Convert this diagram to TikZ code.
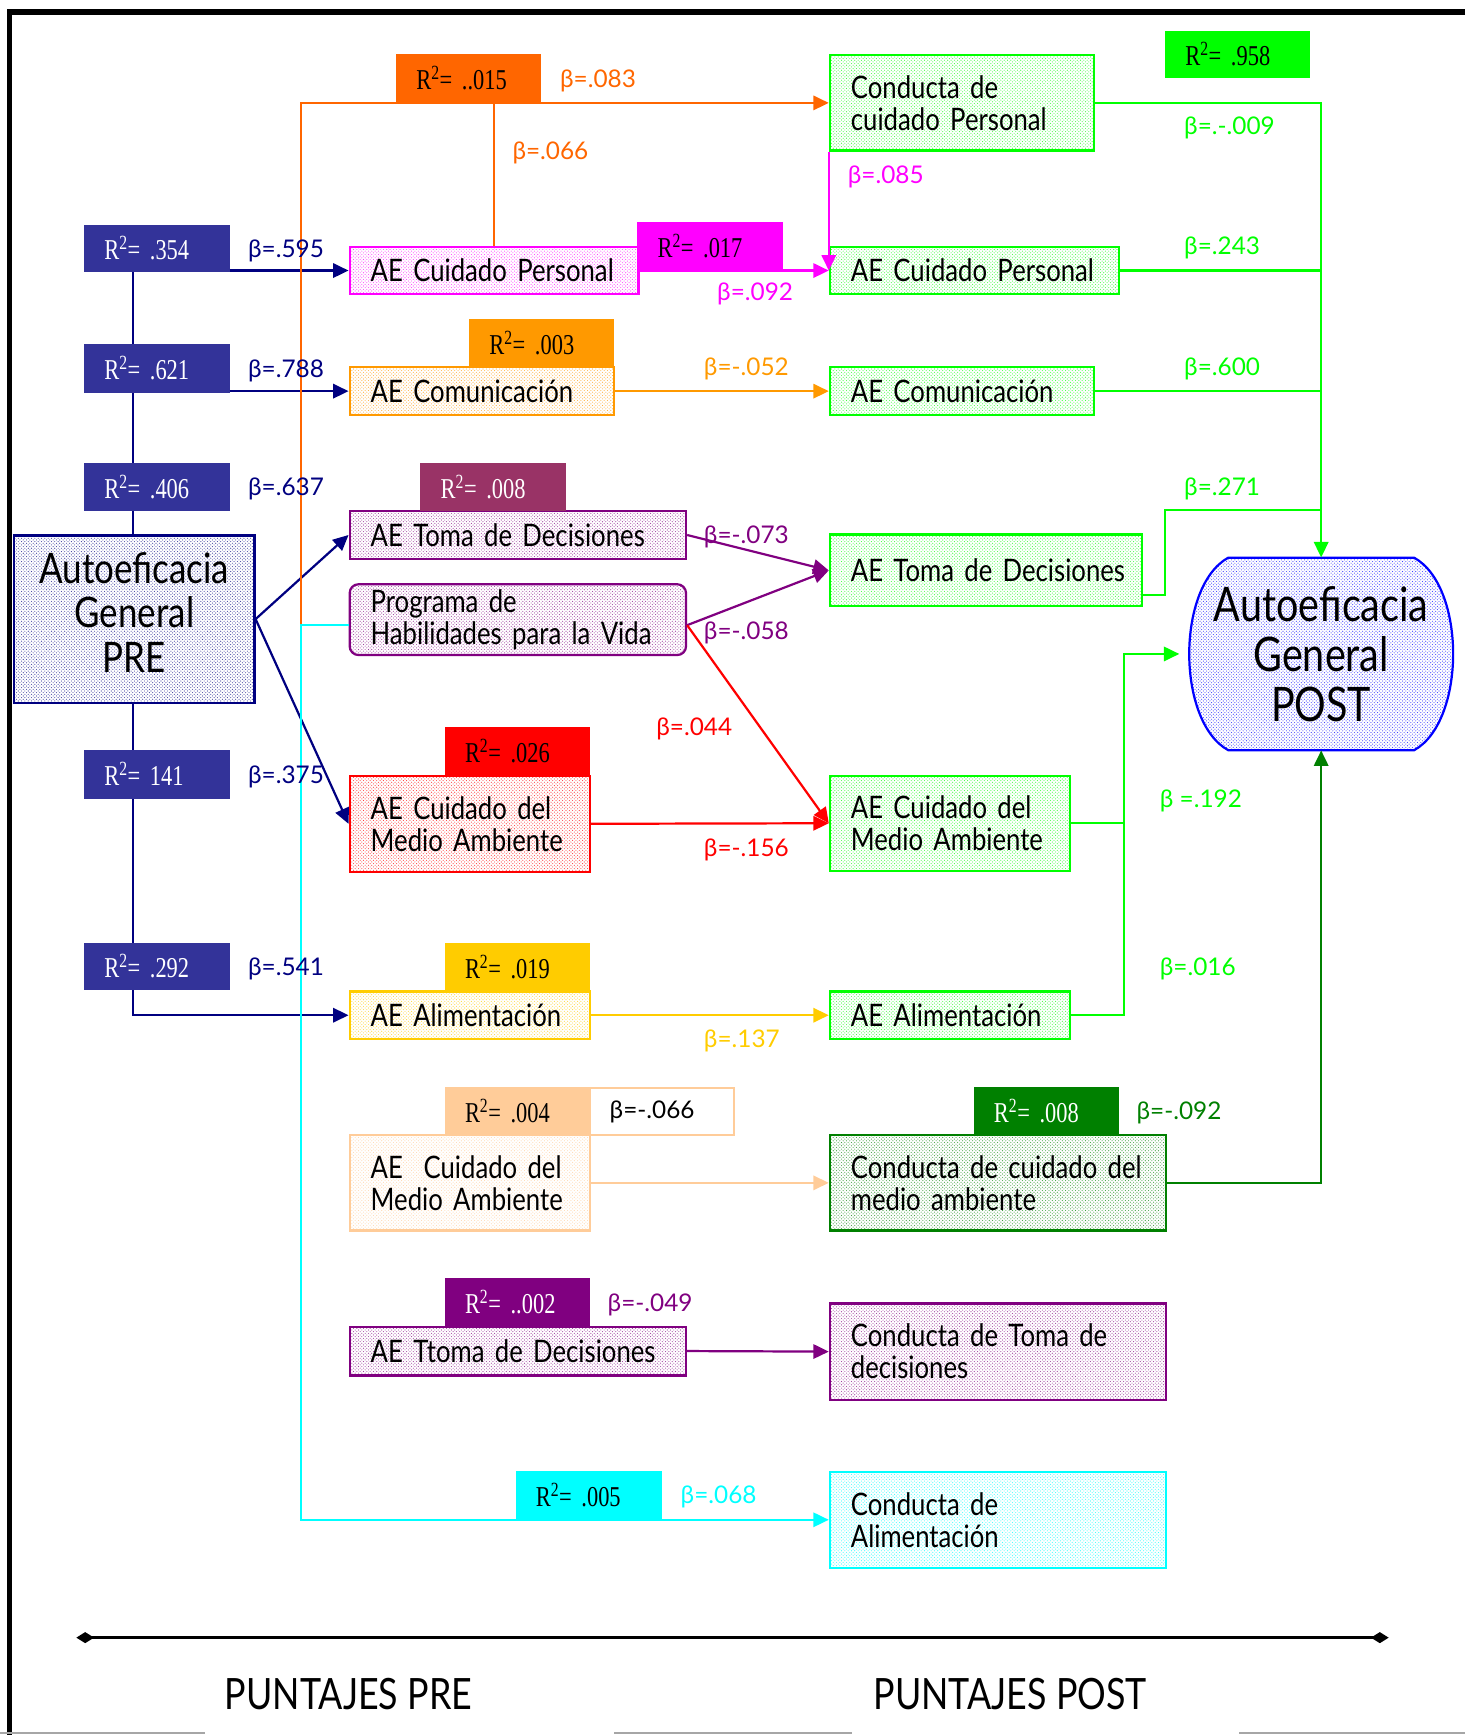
\documentclass[tikz,border=0pt]{standalone}
\usepackage{fontspec}
\setmainfont{Lato}[FakeStretch=0.83]
\newfontfamily\betafont{Lato}
\newfontfamily\rfont{Liberation Serif}[FakeStretch=0.78]
\usetikzlibrary{arrows.meta,patterns}
\pgfdeclarelayer{background}
\pgfsetlayers{background,main}
\definecolor{cnavyfill}{HTML}{333399}
\definecolor{cnavy}{HTML}{000080}
\definecolor{corangeA}{HTML}{FF6600}
\definecolor{cmag}{HTML}{FF00FF}
\definecolor{corangeB}{HTML}{FF9900}
\definecolor{cmaroon}{HTML}{993366}
\definecolor{cpurple}{HTML}{800080}
\definecolor{cred}{HTML}{FF0000}
\definecolor{cgold}{HTML}{FFCC00}
\definecolor{cpeach}{HTML}{FFCC99}
\definecolor{cgreen}{HTML}{00FF00}
\definecolor{cdkgreen}{HTML}{008000}
\definecolor{ccyan}{HTML}{00FFFF}
\definecolor{cblue}{HTML}{0000FF}
\tikzset{
  bx/.style={draw=#1, line width=2pt, preaction={fill=white}, pattern=crosshatch dots, pattern color=#1!75,
    inner xsep=19pt, inner ysep=0pt, align=left, anchor=north west,
    font=\fontsize{28}{29}\selectfont, text=black},
  rb/.style={fill=#1, draw=#1, line width=0.5pt, inner xsep=18pt, inner ysep=0pt, anchor=north west,
    align=left, font=\rfont\fontsize{26}{28}\selectfont},
  bt/.style={anchor=west, inner sep=0pt, font=\betafont\fontsize{22}{24}\selectfont},
  cn/.style={line width=2pt, -{Triangle[length=14pt,width=13pt]}},
  ln/.style={line width=2pt},
}
\begin{document}
\begin{tikzpicture}[x=1pt,y=-1pt]
\useasboundingbox (0,0) rectangle (1324,1568);
% frame
\draw[line width=5pt] (1324,11) -- (8.5,11) -- (8.5,1568);
\draw[line width=2pt, gray!70] (0,1566) -- (185,1566);
\draw[line width=2pt, gray!70] (555,1566) -- (770,1566);
\draw[line width=2pt, gray!70] (1120,1566) -- (1324,1566);

% PRE main box
\node[draw=cnavy, line width=2pt, preaction={fill=white}, pattern=crosshatch dots, pattern color=cnavy!75,
  minimum width=217pt, minimum height=151pt, anchor=north west, inner sep=0pt, align=center,
  font=\fontsize{38}{40}\selectfont] (pre) at (12,483) {Autoeficacia\\General\\PRE\\[-28pt]\mbox{}};

% R2 navy boxes
\node[rb=cnavyfill, text=white, minimum height=42pt, text width=95pt] (r354) at (76,203) {R\textsuperscript{2}= .354};
\node[rb=cnavyfill, text=white, minimum height=43pt, text width=95pt] (r621) at (76,311) {R\textsuperscript{2}= .621};
\node[rb=cnavyfill, text=white, minimum height=43pt, text width=95pt] (r406) at (76,418) {R\textsuperscript{2}= .406};
\node[rb=cnavyfill, text=white, minimum height=43pt, text width=95pt] (r141) at (76,678) {R\textsuperscript{2}= 141};
\node[rb=cnavyfill, text=white, minimum height=42pt, text width=95pt] (r292) at (76,852) {R\textsuperscript{2}= .292};

% pre column boxes
\node[bx=cmag, text width=223pt, minimum height=43pt] (preCP) at (315,222) {\mbox{AE Cuidado Personal}};
\node[bx=corangeB, text width=201pt, minimum height=43pt] (preCom) at (315,331) {\mbox{AE Comunicación}};
\node[bx=cpurple, text width=266pt, minimum height=43pt] (preTD) at (315,461) {\mbox{AE Toma de Decisiones}};
\node[bx=cpurple, text width=266pt, minimum height=64pt, rounded corners=8pt] (prog) at (315,527) {\mbox{Programa de}\\\mbox{Habilidades para la Vida}};
\node[bx=cred, text width=179pt, minimum height=87pt] (preMA) at (315,700) {\mbox{AE Cuidado del}\\\mbox{Medio Ambiente}};
\node[bx=cgold, text width=179pt, minimum height=43pt] (preAl) at (315,895) {\mbox{AE Alimentación}};
\node[bx=cpeach, text width=179pt, minimum height=86pt] (preMA2) at (315,1025) {\mbox{AE\ \ Cuidado del}\\\mbox{Medio Ambiente}};
\node[bx=cpurple, text width=266pt, minimum height=44pt] (preTD2) at (315,1198) {\mbox{AE Ttoma de Decisiones}};

% post column boxes
\node[bx=cgreen, text width=201pt, minimum height=86pt] (cPers) at (749,49) {\mbox{Conducta de}\\\mbox{cuidado Personal}};
\node[bx=cgreen, text width=223pt, minimum height=43pt] (pCP) at (749,222) {\mbox{AE Cuidado Personal}};
\node[bx=cgreen, text width=201pt, minimum height=43pt] (pCom) at (749,331) {\mbox{AE Comunicación}};
\node[bx=cgreen, text width=244pt, minimum height=65pt] (pTD) at (749,482) {\mbox{AE Toma de Decisiones}};
\node[bx=cgreen, text width=179pt, minimum height=86pt] (pMA) at (749,700) {\mbox{AE Cuidado del}\\\mbox{Medio Ambiente}};
\node[bx=cgreen, text width=179pt, minimum height=43pt] (pAl) at (749,895) {\mbox{AE Alimentación}};
\node[bx=cdkgreen, text width=266pt, minimum height=86pt] (cMA) at (749,1025) {\mbox{Conducta de cuidado del}\\\mbox{medio ambiente}};
\node[bx=cpurple, text width=266pt, minimum height=87pt] (cTD) at (749,1177) {\mbox{Conducta de Toma de}\\\mbox{decisiones}};
\node[bx=ccyan, text width=266pt, minimum height=87pt] (cAl) at (749,1329) {\mbox{Conducta de}\\\mbox{Alimentación}};

% POST shape
\path[draw=cblue, line width=2pt, preaction={fill=white}, pattern=crosshatch dots, pattern color=cblue!75]
  (1110,504) -- (1278,504) .. controls (1325,530) and (1325,652) .. (1278,678)
  -- (1110,678) .. controls (1063,652) and (1063,530) .. (1110,504) -- cycle;
\node[minimum width=238pt, minimum height=174pt, inner sep=0pt, align=center,
  font=\fontsize{43}{45}\selectfont] (post) at (1194,591) {Autoeficacia\\General\\POST};

% R2 colored boxes
\node[rb=corangeA, text=black, minimum height=43pt, text width=94pt] (rA) at (358,49) {R\textsuperscript{2}= ..015};
\node[rb=cmag, text=black, minimum height=42pt, text width=95pt] (rB) at (576,201) {R\textsuperscript{2}= .017};
\node[rb=corangeB, text=black, minimum height=43pt, text width=94pt] (rC) at (424,288) {R\textsuperscript{2}= .003};
\node[rb=cmaroon, text=white, minimum height=43pt, text width=95pt] (rD) at (380,418) {R\textsuperscript{2}= .008};
\node[rb=cred, text=black, minimum height=43pt, text width=94pt] (rE) at (402,657) {R\textsuperscript{2}= .026};
\node[rb=cgold, text=black, minimum height=43pt, text width=94pt] (rF) at (402,852) {R\textsuperscript{2}= .019};
\node[rb=cpeach, text=black, minimum height=43pt, text width=94pt] (rG) at (402,982) {R\textsuperscript{2}= .004};
\node[draw=cpeach, line width=2pt, fill=white, inner xsep=18pt, inner ysep=0pt, anchor=north west, align=left,
  minimum height=43pt, text width=94pt, font=\betafont\fontsize{22}{24}\selectfont] (bG) at (532,982) {β=-.066};
\node[rb=cdkgreen, text=white, minimum height=43pt, text width=94pt] (rH) at (880,982) {R\textsuperscript{2}= .008};
\node[rb=cpurple, text=white, minimum height=43pt, text width=94pt] (rI) at (402,1155) {R\textsuperscript{2}= ..002};
\node[rb=ccyan, text=black, minimum height=43pt, text width=95pt] (rJ) at (466,1329) {R\textsuperscript{2}= .005};
\node[rb=cgreen, text=black, minimum height=42pt, text width=94pt] (rK) at (1053,28) {R\textsuperscript{2}= .958};

% coordinates
\coordinate (vl) at (120,0);
\coordinate (oc) at (272,565);
\coordinate (gj) at (1053,461);
\coordinate (gk) at (1016,743);

% navy connectors
\begin{pgfonlayer}{background}
\draw[cn, cnavy] (vl |- r354.south) -- (vl |- preAl.west) -- (preAl.west);
\end{pgfonlayer}
\draw[cn, cnavy] (r354.east |- preCP.west) -- (preCP.west);
\draw[cn, cnavy] (r621.east |- preCom.west) -- (preCom.west);
\draw[cn, cnavy] (pre.east) -- (preTD.west);
\draw[cn, cnavy] (pre.east) -- (preMA.west);

% orange / cyan from programme
\draw[cn, corangeA] (oc) |- (cPers.west);
\draw[ln, corangeA] (preCP.north) -- (preCP.north |- cPers.west);
\draw[cn, ccyan] (prog.west |- oc) -- (oc) |- (cAl.west);

% pre -> post
\draw[cn, cmag] (preCP.east) -- (pCP.west);
\draw[cn, cmag] (cPers.south west) -- (pCP.west);
\draw[cn, corangeB] (preCom.east) -- (pCom.west);
\draw[cn, cpurple] (preTD.east) -- (pTD.west);
\draw[cn, cpurple] (prog.east |- oc) -- (pTD.west);
\draw[cn, cred] (prog.east |- oc) -- (pMA.west);
\draw[cn, cred] (preMA.east) -- (pMA.west);
\draw[cn, cgold] (preAl.east) -- (pAl.west);
\draw[cn, cpeach] (preMA2.east) -- (cMA.west);
\draw[cn, cpurple] (preTD2.east) -- (cTD.west);

% post -> POST
\draw[cn, cgreen] (cPers.east) -| (post.north);
\draw[ln, cgreen] (pCP.east) -- (post.north |- pCP.east);
\draw[ln, cgreen] (pCom.east) -- (post.north |- pCom.east);
\draw[ln, cgreen] ([yshift=-22pt]pTD.east) -| (gj) -- (post.north |- gj);
\draw[cn, cgreen] (pMA.east) -- (pMA.east -| gk) |- ([xshift=-9pt]post.west);
\draw[ln, cgreen] (pAl.east) -| (pMA.east -| gk);
\draw[cn, cdkgreen] (cMA.east) -| (post.south);

% beta labels
\node[bt, text=cnavy] (b1) at (224,227) {β=.595};
\node[bt, text=cnavy] (b2) at (224,335) {β=.788};
\node[bt, text=cnavy] (b3) at (224,442) {β=.637};
\node[bt, text=cnavy] (b4) at (224,702) {β=.375};
\node[bt, text=cnavy] (b5) at (224,876) {β=.541};
\node[bt, text=corangeA] (b6) at (506,73) {β=.083};
\node[bt, text=corangeA] (b7) at (463,138) {β=.066};
\node[bt, text=cmag] (b8) at (766,160) {β=.085};
\node[bt, text=cmag] (b9) at (648,266) {β=.092};
\node[bt, text=corangeB] (b10) at (636,333) {β=-.052};
\node[bt, text=cpurple] (b11) at (636,485) {β=-.073};
\node[bt, text=cpurple] (b12) at (636,572) {β=-.058};
\node[bt, text=cred] (b13) at (593,659) {β=.044};
\node[bt, text=cred] (b14) at (636,768) {β=-.156};
\node[bt, text=cgold] (b15) at (636,941) {β=.137};
\node[bt, text=cdkgreen] (b16) at (1027,1006) {β=-.092};
\node[bt, text=cpurple] (b17) at (549,1179) {β=-.049};
\node[bt, text=ccyan] (b18) at (615,1353) {β=.068};
\node[bt, text=cgreen] (b19) at (1070,116) {β=.-.009};
\node[bt, text=cgreen] (b20) at (1070,224) {β=.243};
\node[bt, text=cgreen] (b21) at (1070,333) {β=.600};
\node[bt, text=cgreen] (b22) at (1070,442) {β=.271};
\node[bt, text=cgreen] (b23) at (1048,724) {β =.192};
\node[bt, text=cgreen] (b24) at (1048,876) {β=.016};

% timeline
\coordinate (tl) at (69,1480);
\coordinate (tr) at (1255,1480);
\draw[line width=2.5pt, {Diamond[length=16pt,width=10pt]}-{Diamond[length=16pt,width=10pt]}] (tl) -- (tr);
\node[font=\fontsize{39}{42}\selectfont] (lpre) at (315,1531) {PUNTAJES PRE};
\node[font=\fontsize{39}{42}\selectfont] (lpost) at (913,1531) {PUNTAJES POST};
\end{tikzpicture}
\end{document}
